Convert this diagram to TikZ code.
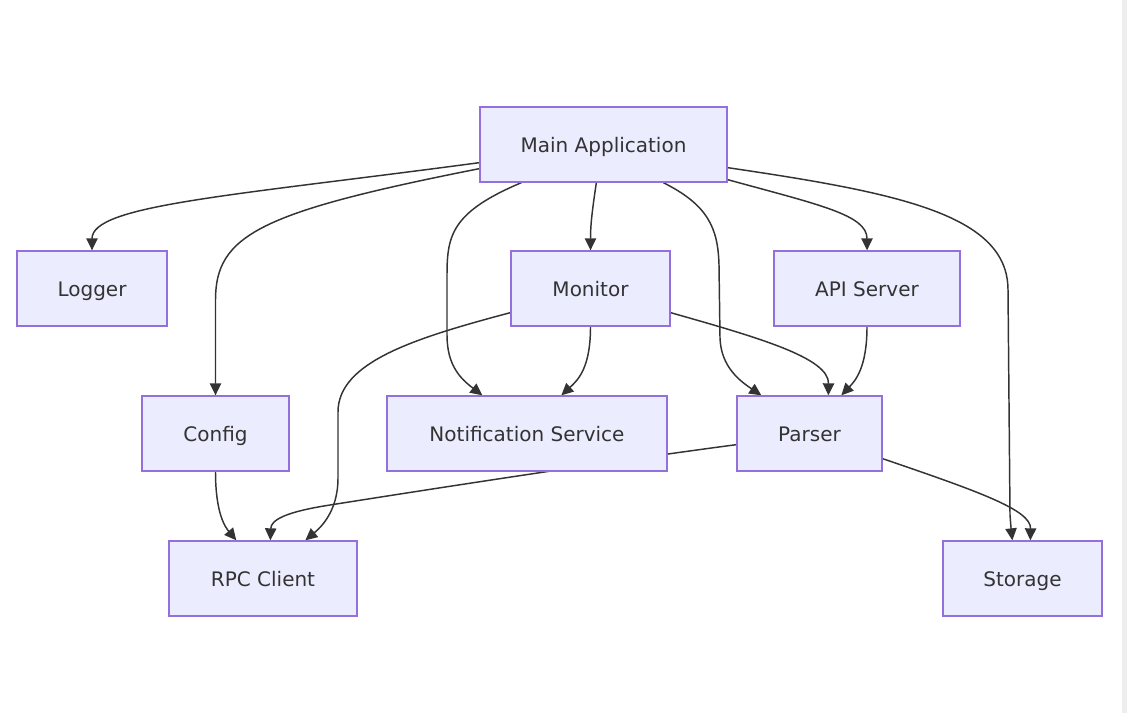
\documentclass[tikz,border=0pt]{standalone}
\usepackage{fontspec}
\setmainfont{DejaVu Sans}
\usetikzlibrary{arrows.meta,calc}
\definecolor{mmFill}{HTML}{ECECFF}
\definecolor{mmStroke}{HTML}{9370DB}
\definecolor{mmText}{HTML}{333333}
\definecolor{mmEdge}{HTML}{333333}
\definecolor{mmStrip}{HTML}{EEEEEE}
\pgfdeclarelayer{bg}
\pgfdeclarelayer{edges}
\pgfsetlayers{bg,edges,main}
\tikzset{
  box/.style={rectangle, draw=mmStroke, fill=mmFill, line width=1pt, inner sep=0pt,
    minimum height=56.25pt, text=mmText, text height=14pt, text depth=2.3pt,
    font=\fontsize{15}{18}\selectfont},
  edge/.style={draw=mmEdge, line width=1.1pt, -{Triangle[length=9pt,width=8.5pt]}},
}
\begin{document}
\begin{tikzpicture}[x=0.75pt,y=-0.75pt]
\useasboundingbox (0,0) rectangle (1127,713);
\begin{pgfonlayer}{bg}
  \fill[white] (0,0) rectangle (1127,713);
  \fill[mmStrip] (1122,0) rectangle (1127,713);
\end{pgfonlayer}

% nodes
\node[box, minimum width=185.25pt] (main)    at (603.5,144.5) {Main Application};
\node[box, minimum width=112.5pt]  (logger)  at (92,288.5)    {Logger};
\node[box, minimum width=119.25pt] (monitor) at (590.5,288.5) {Monitor};
\node[box, minimum width=139.5pt]  (api)     at (867,288.5)   {API Server};
\node[box, minimum width=110.25pt] (config)  at (215.5,433.5) {Config};
\node[box, minimum width=210pt]    (notif)   at (527,433.5)   {Notification Service};
\node[box, minimum width=108.75pt] (parser)  at (809.5,433.5) {Parser};
\node[box, minimum width=141pt]    (rpc)     at (263,578.5)   {RPC Client};
\node[box, minimum width=119.25pt] (storage) at (1022.5,578.5) {Storage};

% connector end points on node borders
\coordinate (s1)  at ($(main.south west)+(0,-20)$);
\coordinate (s2)  at ($(main.south west)+(0,-14)$);
\coordinate (s3)  at ($(main.south west)+(42,0)$);
\coordinate (s4)  at ($(main.south west)+(117,0)$);
\coordinate (s5)  at ($(main.south west)+(184,0)$);
\coordinate (s6)  at ($(main.south east)+(0,-3)$);
\coordinate (s7)  at ($(main.south east)+(0,-15)$);
\coordinate (s9)  at ($(monitor.south east)+(0,-14)$);
\coordinate (s12) at ($(monitor.south west)+(0,-14)$);
\coordinate (s13) at ($(parser.south west)+(0,-27)$);
\coordinate (s14) at ($(parser.south east)+(0,-13)$);
\coordinate (e3)  at ($(notif.north west)+(96,0)$);
\coordinate (e5)  at ($(parser.north west)+(25,0)$);
\coordinate (e7)  at ($(storage.north west)+(70,0)$);
\coordinate (e8)  at ($(notif.north west)+(175,0)$);
\coordinate (e9)  at ($(parser.north west)+(92,0)$);
\coordinate (e10) at ($(parser.north west)+(105,0)$);
\coordinate (e11) at ($(rpc.north west)+(68,0)$);
\coordinate (e12) at ($(rpc.north west)+(137,0)$);
\coordinate (e13) at ($(rpc.north west)+(102,0)$);
\coordinate (e14) at ($(storage.north west)+(88,0)$);

\begin{pgfonlayer}{edges}
  \draw[edge] (s1) .. controls (230,196) and (92,205) .. (logger.north);
  \draw[edge] (s2) .. controls (260,212) and (215.5,235) .. (215.5,300) -- (config.north);
  \draw[edge] (s3) .. controls (452,212) and (447,235) .. (447,275) -- (447,335) .. controls (447,366) and (461,379) .. (e3);
  \draw[edge] (s4) .. controls (592,212) and (590.5,225) .. (monitor.north);
  \draw[edge] (s5) .. controls (708,205) and (718,228) .. (719,265) -- (720,338) .. controls (721,367) and (740,381) .. (e5);
  \draw[edge] (s6) .. controls (820,205) and (867,215) .. (api.north);
  \draw[edge] (s7) .. controls (900,193) and (1008,215) .. (1008,290) -- (1010,515) .. controls (1011,528) .. (e7);
  \draw[edge] (monitor.south) .. controls (590.5,368) and (578,380) .. (e8);
  \draw[edge] (s9) .. controls (760,338) and (829,358) .. (e9);
  \draw[edge] (api.south) .. controls (867,368) and (855,381) .. (e10);
  \draw[edge] (config.south) .. controls (215.5,515) and (226,528) .. (e11);
  \draw[edge] (s12) .. controls (415,338) and (338,362) .. (338,412) -- (338,478) .. controls (338,512) and (320,528) .. (e12);
  \draw[edge] (s13) .. controls (620,460) and (450,486) .. (330,505) .. controls (285,512) and (271,520) .. (e13);
  \draw[edge] (s14) .. controls (980,492) and (1031,510) .. (e14);
\end{pgfonlayer}
\end{tikzpicture}
\end{document}
